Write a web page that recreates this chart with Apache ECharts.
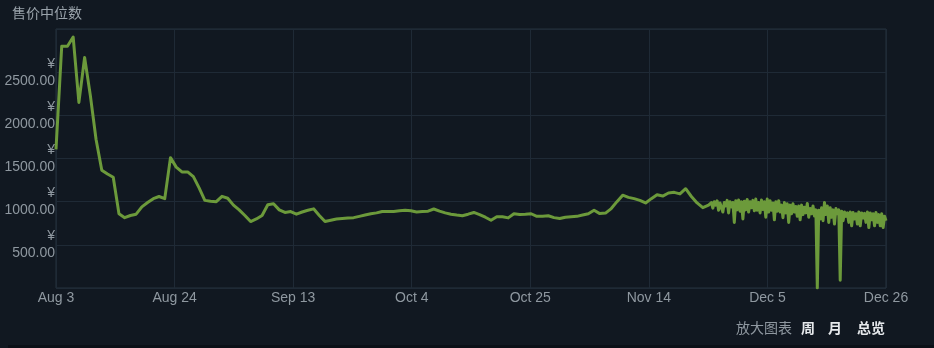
<!DOCTYPE html>
<html><head><meta charset="utf-8">
<script src="https://cdn.jsdelivr.net/npm/echarts@6/dist/echarts.min.js"></script>
<style>html,body{margin:0;padding:0;background:#111821;}#c{width:934px;height:348px;}</style>
</head><body><div id="c"></div>
<script>
// Tick labels (evenly spaced along the day axis from Aug 3 to Dec 26)
var tickLabels = ['Aug 3','Aug 24','Sep 13','Oct 4','Oct 25','Nov 14','Dec 5','Dec 26'];
var totalDays = 145;
// Daily median prices, one per day starting Aug 3 (day 0)
var dailyPrices = [
 1605,2800,2800,2907,2150,2670,2230,1720,1365,1320,
 1283,860,815,840,855,940,990,1035,1060,1035,
 1510,1400,1345,1345,1290,1160,1015,1005,1000,1062,
 1040,960,905,840,770,800,840,965,975,905,
 875,885,855,880,900,917,840,770,785,800,
 805,810,815,830,845,860,870,887,885,887,
 895,900,895,880,885,890,915,890,870,855,
 845,837,855,875,850,820,785,825,825,812,
 860,852,855,860,830,830,837,815,805,820,
 825,830,845,860,900,862,868,920,1000,1075,
 1050,1035,1015,985,1035,1080,1065,1100,1108,1090,
 1150,1060,985,930,960
];
// Recent prices, every quarter day starting at day 114.25
var recentStartDay = 114.25;
var recentStep = 0.25;
var recentPrices = [
 955,990,925,1000, 960,1010,900,985, 1005,880,990,950, 1015,870,1000,940,
 990,760,1010,905, 1020,890,1000,800, 1005,905,1025,880, 1000,930,1015,895,
 1030,900,990,870, 1020,910,1000,820, 1030,880,1010,900, 985,790,1000,890,
 1010,880,960,815, 990,870,975,760, 960,860,975,880, 945,830,950,790,
 960,850,935,870, 980,820,920,860, 950,835,905,0, 900,800,930,780,
 990,850,950,760, 930,820,905,740, 920,860,905,90, 890,780,880,830,
 870,760,880,720, 875,800,860,740, 880,720,870,810, 865,760,880,700,
 870,790,860,720, 875,760,850,720, 860,700,830,780
];
var yMax = 3000, yStep = 500;

var seriesData = [];
dailyPrices.forEach(function(v,i){ seriesData.push([i, v]); });
recentPrices.forEach(function(v,i){ seriesData.push([recentStartDay + i*recentStep, v]); });

var xInterval = totalDays / (tickLabels.length - 1);
var chart = echarts.init(document.getElementById('c'), null, {renderer:'canvas'});
var labelColor = '#8f98a0';
var latin = '"Liberation Sans", Arial, sans-serif';
var cjk = '"Noto Sans CJK SC", sans-serif';
chart.setOption({
  backgroundColor: '#111821',
  animation: false,
  title: {
    text: '售价中位数', left: 12, top: 6, padding: 0,
    textStyle: {color: '#9aa3ab', fontSize: 14, fontWeight: 'normal', fontFamily: cjk}
  },
  grid: {left: 56, right: 48, top: 29, bottom: 60, show: true, borderColor: '#26323f', borderWidth: 1, backgroundColor: 'transparent'},
  xAxis: {
    type: 'value', min: 0, max: totalDays, interval: xInterval,
    axisLine: {show: false}, axisTick: {show: false},
    splitLine: {show: true, lineStyle: {color: '#1f2a36', width: 1}},
    axisLabel: {
      color: labelColor, fontSize: 14, margin: 3, fontFamily: latin,
      formatter: function(v){ var k = Math.round(v / xInterval); return tickLabels[k] || ''; }
    }
  },
  yAxis: {
    type: 'value', min: 0, max: yMax, interval: yStep,
    axisLine: {show: false}, axisTick: {show: false},
    splitLine: {show: true, lineStyle: {color: '#1f2a36', width: 1}},
    axisLabel: {
      color: labelColor, fontSize: 14, margin: 1, lineHeight: 17, fontFamily: latin,
      formatter: function(v){ if (v <= 0 || v >= yMax) return ''; return '¥\n' + v.toFixed(2); }
    }
  },
  series: [{
    type: 'line', data: seriesData, showSymbol: false, symbol: 'none',
    lineStyle: {color: '#6c9a3b', width: 3, join: 'round'},
    clip: true
  }],
  graphic: [
    {type: 'text', left: 736, top: 321, style: {text: '放大图表', fill: '#8f98a0', fontSize: 14, fontFamily: cjk}},
    {type: 'text', left: 801, top: 321, style: {text: '周', fill: '#e6e9ec', fontSize: 14, fontWeight: 'bold', fontFamily: cjk}},
    {type: 'text', left: 828, top: 321, style: {text: '月', fill: '#e6e9ec', fontSize: 14, fontWeight: 'bold', fontFamily: cjk}},
    {type: 'text', left: 857, top: 321, style: {text: '总览', fill: '#e6e9ec', fontSize: 14, fontWeight: 'bold', fontFamily: cjk}},
    {type: 'rect', left: 8, top: 345, shape: {width: 926, height: 3}, style: {fill: '#0b1017'}}
  ]
});
</script></body></html>
